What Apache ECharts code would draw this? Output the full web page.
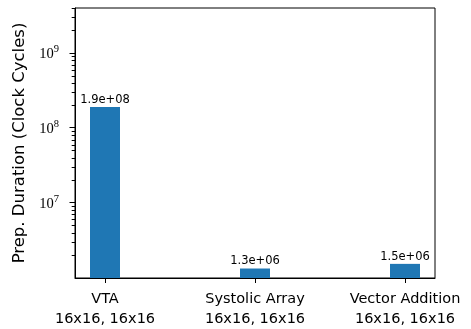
<!DOCTYPE html>
<html>
<head>
<meta charset="utf-8">
<script src="https://cdn.jsdelivr.net/npm/echarts@6/dist/echarts.min.js"></script>
<style>html,body{margin:0;padding:0;background:#fff}#c{width:471px;height:329px}</style>
</head>
<body>
<div id="c"></div>
<script>
const categories = ['VTA\n16x16, 16x16', 'Systolic Array\n16x16, 16x16', 'Vector Addition\n16x16, 16x16'];
const positions = [0, 1, 2];
const durations = [1.9e8, 1.3e6, 1.5e6];
const majorTicks = [1e7, 1e8, 1e9];
const majorExponents = ['7', '8', '9'];
const minorTicks = [2e6, 3e6, 4e6, 5e6, 6e6, 7e6, 8e6, 9e6,
                    2e7, 3e7, 4e7, 5e7, 6e7, 7e7, 8e7, 9e7,
                    2e8, 3e8, 4e8, 5e8, 6e8, 7e8, 8e8, 9e8,
                    2e9, 3e9, 4e9];
const yLabel = 'Prep. Duration (Clock Cycles)';

function fmtExp(v) {
  const s = v.toExponential(1);
  const [m, e] = s.split('e');
  const sign = e[0];
  let d = e.slice(1);
  if (d.length < 2) d = '0' + d;
  return m + 'e' + sign + d;
}

const chart = echarts.init(document.getElementById('c'), null, {renderer: 'canvas'});
const yMin = 9.7e5, yMax = 4.02e9;
const gridRect = {left: 75, right: 36, top: 8, bottom: 50};
chart.setOption({
  animation: false,
  backgroundColor: '#fff',
  grid: [
    Object.assign({show: true, borderColor: '#000', borderWidth: 1, backgroundColor: 'transparent'}, gridRect),
    Object.assign({show: false}, gridRect)
  ],
  xAxis: [{
    gridIndex: 0,
    type: 'value', min: -0.2, max: 2.2,
    axisLine: {show: true, onZero: false, lineStyle: {color: '#000', width: 1}},
    splitLine: {show: false},
    axisTick: {show: true, customValues: positions, length: 5, lineStyle: {color: '#000'}},
    axisLabel: {
      customValues: positions, margin: 11,
      color: '#000', fontFamily: 'DejaVu Sans', fontSize: 14.5, lineHeight: 20,
      formatter: v => categories[Math.round(v)]
    }
  }, {
    gridIndex: 1,
    type: 'value', min: -0.2, max: 2.2, show: false
  }],
  yAxis: [{
    gridIndex: 0,
    type: 'log', logBase: 10, min: yMin, max: yMax,
    name: yLabel, nameLocation: 'middle', nameRotate: 90, nameGap: 44,
    nameTextStyle: {color: '#000', fontFamily: 'DejaVu Sans', fontSize: 16.5},
    axisLine: {show: true, onZero: false, lineStyle: {color: '#000', width: 1}},
    splitLine: {show: false},
    axisTick: {show: true, customValues: majorTicks, length: 5.5, lineStyle: {color: '#000'}},
    axisLabel: {
      customValues: majorTicks, margin: 16,
      formatter: v => '{b|10}{s|' + majorExponents[majorTicks.findIndex(t => Math.abs(Math.log10(t) - Math.log10(v)) < 1e-6)] + '}',
      rich: {
        b: {fontFamily: 'Liberation Serif', fontSize: 14.5, color: '#000', verticalAlign: 'bottom', lineHeight: 18},
        s: {fontFamily: 'Liberation Serif', fontSize: 10.5, color: '#000', verticalAlign: 'top', lineHeight: 18}
      }
    }
  }, {
    gridIndex: 1,
    type: 'log', logBase: 10, min: yMin, max: yMax, position: 'left',
    axisLine: {show: false, onZero: false},
    splitLine: {show: false},
    axisLabel: {show: false},
    axisTick: {show: true, customValues: minorTicks, length: 3.3, lineStyle: {color: '#000'}}
  }],
  series: [{
    type: 'bar',
    xAxisIndex: 0, yAxisIndex: 0,
    data: positions.map((p, i) => [p, durations[i]]),
    barWidth: 30,
    itemStyle: {color: '#1f77b4'},
    label: {
      show: true, position: 'top', distance: 1,
      color: '#000', fontFamily: 'DejaVu Sans', fontSize: 11.5,
      formatter: p => fmtExp(p.value[1])
    }
  }]
});
</script>
</body>
</html>
